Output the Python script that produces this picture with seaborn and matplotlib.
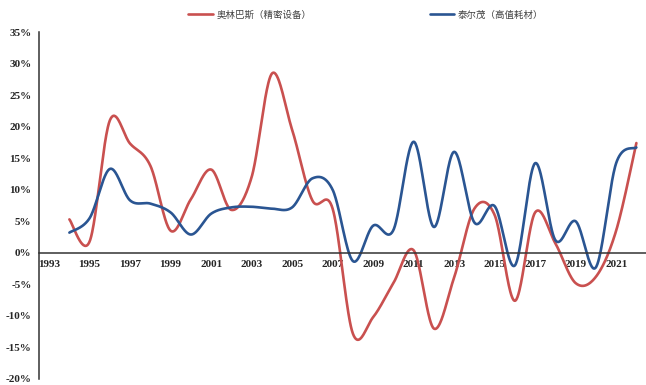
import numpy as np
import pandas as pd
import matplotlib
matplotlib.use("Agg")
import matplotlib.pyplot as plt
from matplotlib.font_manager import FontProperties
import seaborn as sns

# Annual growth rates (%), 1994-2022
years = list(range(1994, 2023))
olympus = [5.3, 1.8, 21.0, 17.3, 13.8, 3.5, 8.5, 13.2, 6.8, 12.0,
           28.4, 19.5, 8.3, 7.0, -12.8, -10.2, -4.8, 0.4, -12.0, -3.9,
           7.0, 6.0, -7.6, 6.4, 1.5, -4.8, -3.8, 3.5, 17.4]
terumo = [3.2, 5.5, 13.3, 8.3, 7.8, 6.4, 2.9, 6.2, 7.2, 7.3,
          7.0, 7.2, 11.8, 10.0, -1.3, 4.3, 3.6, 17.6, 4.1, 16.0,
          4.8, 7.4, -2.0, 14.2, 2.0, 5.0, -2.3, 14.2, 16.7]
series_names = ["奥林巴斯（精密设备）", "泰尔茂（高值耗材）"]
series_colors = ["#C9504F", "#2A5592"]

first_year = 1993
tick_years = list(range(1993, 2022, 2))
y_ticks = list(range(-20, 40, 5))


def smooth(xs, ys, n=40):
    """Bezier smoothing through every point (Catmull-Rom style tangents)."""
    xs = np.asarray(xs, float)
    ys = np.asarray(ys, float)
    m = len(xs)
    out_x, out_y = [], []
    t = np.linspace(0, 1, n, endpoint=False)
    for i in range(m - 1):
        i0 = max(i - 1, 0)
        i3 = min(i + 2, m - 1)
        p1 = np.array([xs[i], ys[i]])
        p2 = np.array([xs[i + 1], ys[i + 1]])
        p0 = np.array([xs[i0], ys[i0]])
        p3 = np.array([xs[i3], ys[i3]])
        c1 = p1 + (p2 - p0) / 6.0
        c2 = p2 - (p3 - p1) / 6.0
        b = ((1 - t) ** 3)[:, None] * p1 + (3 * (1 - t) ** 2 * t)[:, None] * c1 \
            + (3 * (1 - t) * t ** 2)[:, None] * c2 + (t ** 3)[:, None] * p2
        out_x.extend(b[:, 0])
        out_y.extend(b[:, 1])
    out_x.append(xs[-1])
    out_y.append(ys[-1])
    return np.array(out_x), np.array(out_y)


frames = []
for name, vals in zip(series_names, [olympus, terumo]):
    pos = [y - first_year for y in years]
    sx, sy = smooth(pos, vals)
    frames.append(pd.DataFrame({"pos": sx, "growth": sy, "series": name}))
df = pd.concat(frames, ignore_index=True)

sns.set_style("white")
plt.rcParams["font.family"] = ["Liberation Serif", "DejaVu Serif"]

fig = plt.figure(figsize=(6.46, 3.85), dpi=100)
ax = fig.add_axes([39 / 646, 1 - 379 / 385, 607.5 / 646, 347 / 385])

sns.lineplot(data=df, x="pos", y="growth", hue="series", hue_order=series_names,
             palette=series_colors, sort=False, estimator=None, units="series",
             linewidth=1.9, ax=ax, legend=False)

ax.set_xlim(-0.5, 29.5)
ax.set_ylim(-20, 35)
ax.set_xlabel("")
ax.set_ylabel("")

axis_color = "#333333"
for side in ["top", "right"]:
    ax.spines[side].set_visible(False)
ax.spines["bottom"].set_position(("data", 0))
for side in ["left", "bottom"]:
    ax.spines[side].set_color(axis_color)
    ax.spines[side].set_linewidth(1.1)

# major x ticks sit on category boundaries, labels on the categories
ax.set_xticks(np.arange(-0.5, 30, 2))
ax.set_xticklabels([])
ax.set_xticks([y - first_year for y in tick_years], minor=True)
ax.set_xticklabels([str(y) for y in tick_years], minor=True,
                   fontsize=8, fontweight="bold")
ax.tick_params(axis="x", which="major", direction="out", length=3.5,
               width=1.0, color=axis_color)
ax.tick_params(axis="x", which="minor", length=0, pad=5)

ax.set_yticks(y_ticks)
ax.set_yticklabels([f"{v}%" for v in y_ticks], fontsize=8, fontweight="bold")
ax.tick_params(axis="y", direction="out", length=3.5, width=1.0,
               color=axis_color, pad=2)
ax.grid(False)

handles = [plt.Line2D([], [], color=c, linewidth=1.9) for c in series_colors]
fig.legend(handles, series_names, loc="center",
           bbox_to_anchor=(366 / 646, 1 - 15 / 385), ncol=2, frameon=False,
           handlelength=2.6, handletextpad=0.4, columnspacing=12.5,
           prop=FontProperties(family=["Noto Sans CJK SC", "DejaVu Sans"], size=6.8),
           labelcolor="#404040")

fig.savefig("out.png", dpi=100)
